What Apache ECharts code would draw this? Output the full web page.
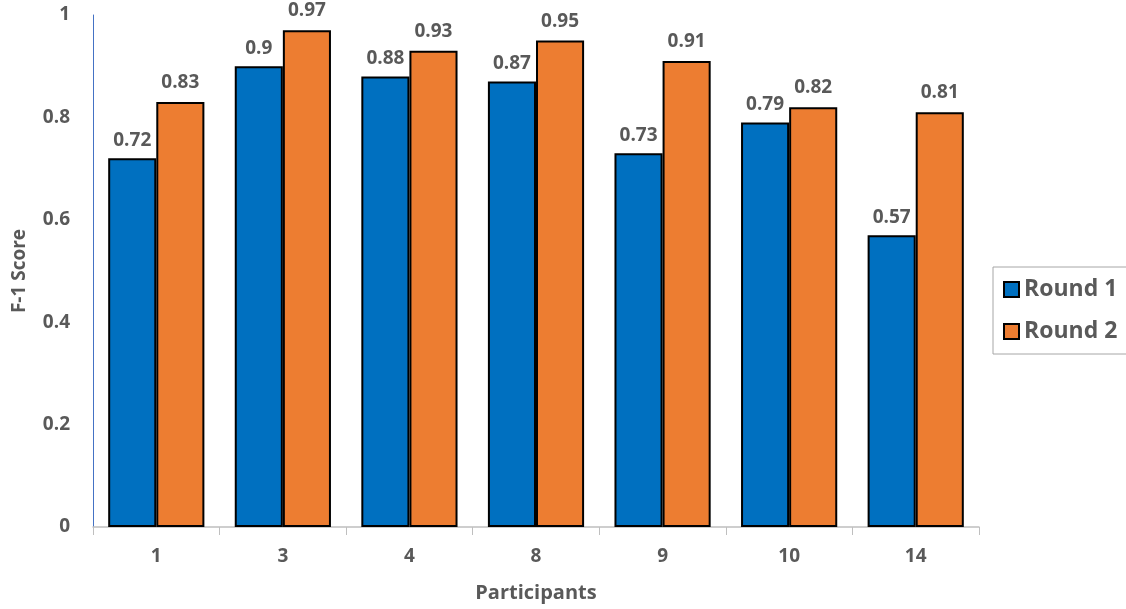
<!DOCTYPE html>
<html><head><meta charset="utf-8">
<script src="https://cdn.jsdelivr.net/npm/echarts@6/dist/echarts.min.js"></script>
<style>html,body{margin:0;padding:0;background:#fff}#c{width:1126px;height:609px}</style>
</head><body><div id="c"></div>
<script>
const categories = ['1', '3', '4', '8', '9', '10', '14'];
const round1 = [0.72, 0.9, 0.88, 0.87, 0.73, 0.79, 0.57];
const round2 = [0.83, 0.97, 0.93, 0.95, 0.91, 0.82, 0.81];
const seriesNames = ['Round 1', 'Round 2'];

const FONT = '"Open Sans", "Liberation Sans", sans-serif';
const TXT = '#595959';
const chart = echarts.init(document.getElementById('c'));
const lbl = (d) => ({
  show: true, position: 'top', distance: d,
  fontFamily: FONT, fontWeight: 'bold', fontSize: 19, color: TXT,
  formatter: p => String(p.value)
});
chart.setOption({
  animation: false,
  grid: { left: 93, right: 147, top: 15, bottom: 82 },
  legend: {
    orient: 'vertical', left: 993, top: 267,
    data: seriesNames,
    itemWidth: 15, itemHeight: 15, itemGap: 19,
    padding: [11, 12, 11, 10],
    borderColor: '#a6a6a6', borderWidth: 1,
    textStyle: { fontFamily: FONT, fontWeight: 'bold', fontSize: 23, color: TXT },
    icon: 'rect'
  },
  xAxis: {
    type: 'category', data: categories,
    name: 'Participants', nameLocation: 'middle', nameGap: 56,
    nameTextStyle: { fontFamily: FONT, fontWeight: 'bold', fontSize: 20, color: TXT },
    axisLine: { lineStyle: { color: '#bfbfbf', width: 1.5 } },
    axisTick: { show: true, length: 8, lineStyle: { color: '#bfbfbf' } },
    axisLabel: { fontFamily: FONT, fontWeight: 'bold', fontSize: 19, color: TXT, margin: 20 }
  },
  yAxis: {
    type: 'value', min: 0, max: 1, interval: 0.2,
    name: 'F-1 Score', nameLocation: 'middle', nameGap: 64, nameRotate: 90,
    nameTextStyle: { fontFamily: FONT, fontWeight: 'bold', fontSize: 19, color: TXT },
    axisLine: { show: true, lineStyle: { color: '#4472c4', width: 1 } },
    axisTick: { show: false },
    splitLine: { show: false },
    axisLabel: { fontFamily: FONT, fontWeight: 'bold', fontSize: 19, color: TXT, margin: 23,
      formatter: v => String(Math.round(v * 10) / 10) }
  },
  series: [
    { name: seriesNames[0], type: 'bar', data: round1, barGap: '0%', barCategoryGap: '24%',
      itemStyle: { color: '#0070c0', borderColor: '#000', borderWidth: 2 }, label: lbl(8) },
    { name: seriesNames[1], type: 'bar', data: round2,
      itemStyle: { color: '#ed7d31', borderColor: '#000', borderWidth: 2 }, label: lbl(10) }
  ]
});
</script></body></html>
